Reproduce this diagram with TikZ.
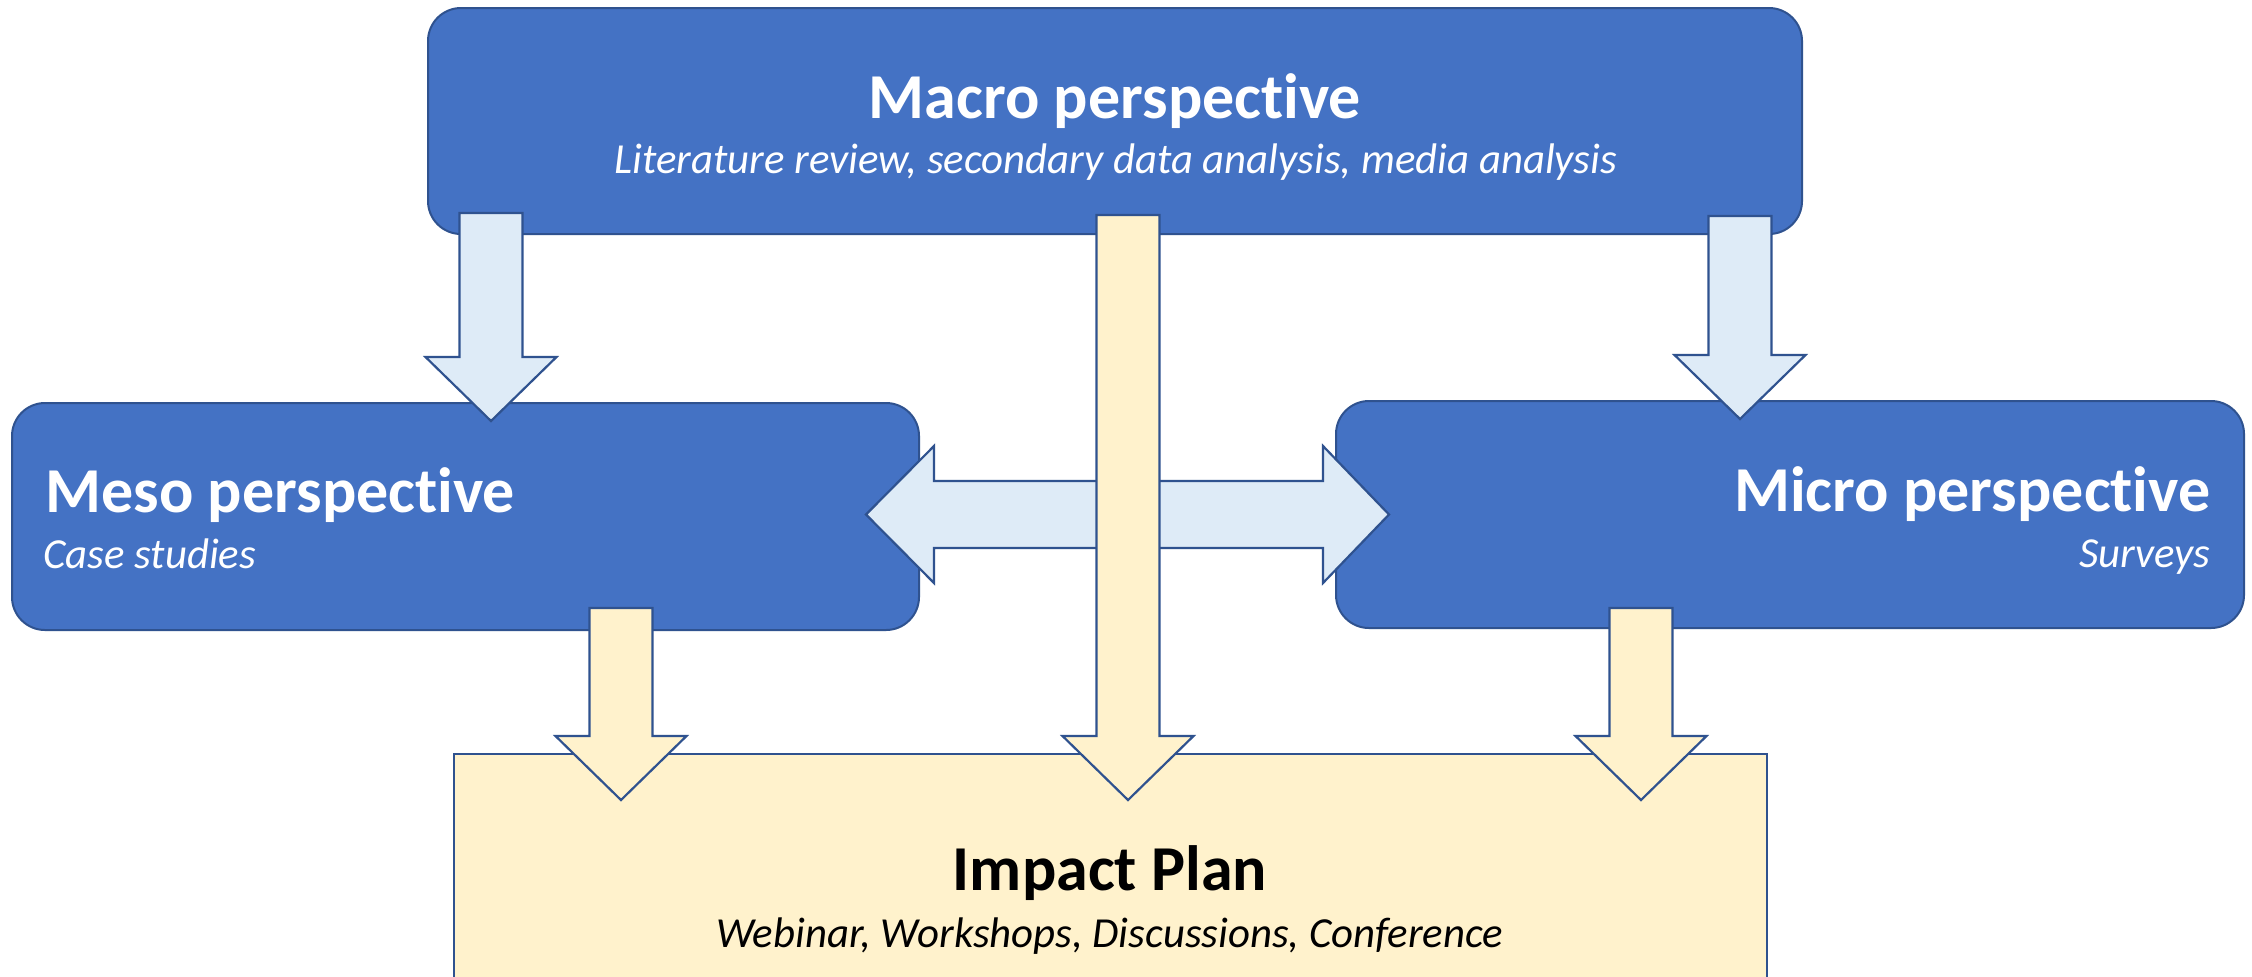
\documentclass[tikz,border=0pt]{standalone}
\usepackage{fontspec}
\setmainfont{Carlito}[Ligatures=NoCommon]
\usetikzlibrary{calc}

\definecolor{boxblue}{HTML}{4472C4}
\definecolor{edgeblue}{HTML}{2F528F}
\definecolor{paleblue}{HTML}{DEEBF7}
\definecolor{paleyellow}{HTML}{FFF2CC}

\newcommand{\dnarrow}[3]{%
  \draw[#1] ($(#2)+(-31.5,0)$) -- ($(#3)+(-31.5,-64)$) -- ($(#3)+(-65.5,-64)$) -- (#3)
    -- ($(#3)+(65.5,-64)$) -- ($(#3)+(31.5,-64)$) -- ($(#2)+(31.5,0)$) -- cycle;}
\newcommand{\hblock}[3]{%
  \draw[#1] (#2) -- ($(#2)+(68,-68.5)$) -- ($(#2)+(68,-33.5)$) -- ($(#3)+(-66,-33.5)$)
    -- ($(#3)+(-66,-68.5)$) -- (#3) -- ($(#3)+(-66,68.5)$) -- ($(#3)+(-66,33.5)$)
    -- ($(#2)+(68,33.5)$) -- ($(#2)+(68,68.5)$) -- cycle;}

\begin{document}
\begin{tikzpicture}[x=0.5pt,y=-0.5pt]
\tikzstyle{every node}=[inner sep=0pt]
\tikzstyle{persp}=[draw=edgeblue, line width=1pt, fill=boxblue, rounded corners=16.5pt]
\tikzstyle{plan}=[draw=edgeblue, line width=0.8pt, fill=paleyellow]
\tikzstyle{blueflow}=[draw=edgeblue, line width=1.1pt, fill=paleblue]
\tikzstyle{yellowflow}=[draw=edgeblue, line width=1.1pt, fill=paleyellow]
\tikzstyle{headtext}=[text=white, font=\bfseries\fontsize{32}{37}\selectfont]
\tikzstyle{subtext}=[text=white, font=\itshape\fontsize{21.4}{25}\selectfont]
\clip (0,0) rectangle (2252,976);
\fill[white] (0,0) rectangle (2252,976);
\node (macro) [persp, minimum width=687pt, minimum height=113pt] at (1115,121) {};
\node (meso) [persp, minimum width=453.5pt, minimum height=113.5pt] at (465.5,516.5) {};
\node (micro) [persp, minimum width=454pt, minimum height=113.5pt] at (1790,514.5) {};
\node (impact) [plan, minimum width=656.5pt, minimum height=150pt, anchor=north] at (1110.5,753) {};
\node (macrot) [headtext, anchor=base] at (1115,118) {Macro perspective};
\node (macros) [subtext, anchor=base] at (1116,173) {Literature review, secondary data analysis, media analysis};
\node (mesot) [headtext, anchor=base west] at (45,512) {Meso perspective};
\node (mesos) [subtext, anchor=base west] at (43,568) {Case studies};
\node (microt) [headtext, anchor=base east] at (2211,511) {Micro perspective};
\node (micros) [subtext, anchor=base east] at (2211,567) {Surveys};
\node (impactt) [headtext, text=black, anchor=base] at (1110,890) {Impact Plan};
\node (impacts) [subtext, text=black, anchor=base] at (1110,947) {Webinar, Workshops, Discussions, Conference};
\coordinate (dl) at ($(meso.east)+(-54,-2)$);
\coordinate (dr) at ($(micro.west)+(54,0)$);
\hblock{blueflow}{dl}{dr}
\coordinate (a1) at ($(macro.south west)+(64,-22)$);
\coordinate (b1) at ($(a1 |- meso.north)+(0,19)$);
\coordinate (a2) at ($(macro.south east)+(-63,-19)$);
\coordinate (b2) at ($(a2 |- micro.north)+(0,19)$);
\dnarrow{blueflow}{a1}{b1}
\dnarrow{blueflow}{a2}{b2}
\coordinate (a3) at ($(macro.south)+(13,-20)$);
\coordinate (b3) at ($(a3 |- impact.north)+(0,47)$);
\coordinate (a4) at ($(meso.south)+(155.5,-23)$);
\coordinate (b4) at ($(a4 |- impact.north)+(0,47)$);
\coordinate (a5) at ($(micro.south)+(-149,-21)$);
\coordinate (b5) at ($(a5 |- impact.north)+(0,47)$);
\dnarrow{yellowflow}{a3}{b3}
\dnarrow{yellowflow}{a4}{b4}
\dnarrow{yellowflow}{a5}{b5}
\end{tikzpicture}
\end{document}
